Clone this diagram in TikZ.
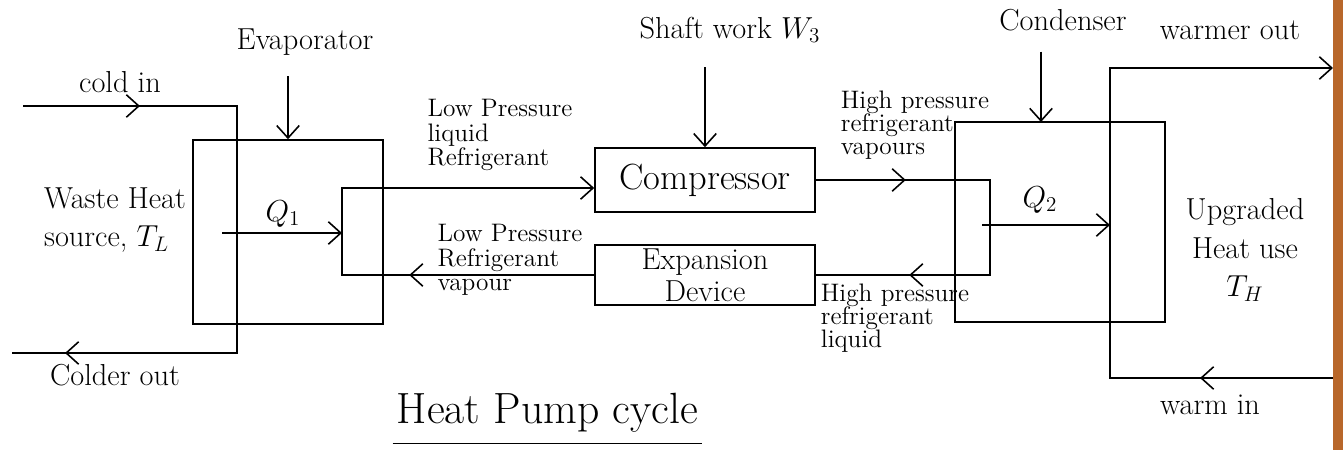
\documentclass[tikz,border=0pt]{standalone}
\usetikzlibrary{arrows.meta,decorations.markings}
\begin{document}
\begin{tikzpicture}[
    >={Straight Barb[length=2.5mm,width=4.5mm]},
    line width=0.9pt,
    unit/.style={draw, line width=0.9pt, inner sep=0pt},
    lbl/.style={font=\LARGE, align=center},
    small/.style={font=\Large, align=left, inner sep=1pt},
    marrow/.style={postaction={decorate,
        decoration={markings, mark=at position #1 with {\arrow{>}}}}}
]
    \definecolor{tableColour}{HTML}{B8672A}

    % Page size
    \useasboundingbox (0,0) rectangle (26.86,9);
    \fill[tableColour] (26.66,0) rectangle (26.86,9);

    % Units
    \node[unit, minimum width=3.8cm, minimum height=3.68cm] (evap) at (5.76,4.36) {};
    \node[unit, minimum width=4.4cm, minimum height=1.28cm, font=\huge] (comp) at (14.1,5.4) {Compressor};
    \node[unit, minimum width=4.4cm, minimum height=1.2cm, font=\LARGE, align=center] (expn) at (14.1,3.5) {Expansion\\[-4pt] Device};
    \node[unit, minimum width=4.2cm, minimum height=4.0cm] (cond) at (21.2,4.56) {};

    % Refrigerant loop
    \coordinate (eTop) at (6.84,5.24);
    \coordinate (eBot) at (6.84,3.5);
    \coordinate (cTop) at (19.8,5.4);
    \coordinate (cBot) at (19.8,3.5);
    \draw[->, marrow=3.7cm] (expn.west) -- (eBot) -- (eTop) -- (eTop -| comp.west);
    \draw[marrow=1.8cm, marrow=7.0cm] (comp.east) -- (cTop) -- (cBot) -- (expn.east);

    % Cold stream
    \coordinate (ci) at (0.46,6.88);
    \coordinate (c1) at (4.74,6.88);
    \coordinate (c2) at (4.74,1.94);
    \coordinate (co) at (0.24,1.94);
    \draw[marrow=2.34cm, marrow=12.66cm] (ci) -- (c1) -- (c2) -- (co);

    % Warm stream
    \coordinate (wi) at (26.66,1.44);
    \coordinate (w1) at (22.2,1.44);
    \coordinate (w2) at (22.2,7.64);
    \coordinate (wo) at (26.66,7.64);
    \draw[->, marrow=2.66cm] (wi) -- (w1) -- (w2) -- (wo);

    % Heat flows
    \coordinate (q1s) at (4.44,4.34);
    \coordinate (q2s) at (19.64,4.5);
    \draw[->] (q1s) -- (q1s -| eTop);
    \draw[->] (q2s) -- (q2s -| w1);
    \node[lbl] (qOne) at (5.66,4.72) {$Q_1$};
    \node[lbl] (qTwo) at (20.8,5.0) {$Q_2$};

    % Labels with pointers
    \node[lbl] (evLbl) at (6.1,8.16) {Evaporator};
    \node[lbl] (shaft) at (14.6,8.4) {Shaft work $W_3$};
    \node[lbl] (condLbl) at (21.26,8.6) {Condenser};
    \coordinate (condPt) at (20.82,6.56);
    \draw[->, shorten <=8pt] (evLbl.south -| evap.north) -- (evap.north);
    \draw[->, shorten <=10pt] (shaft.south -| comp.north) -- (comp.north);
    \draw[->, shorten <=8pt] (condLbl.south -| condPt) -- (condPt);

    % Stream and unit labels
    \node[lbl] (coldIn) at (2.4,7.36) {cold in};
    \node[lbl] (coldOut) at (2.3,1.5) {Colder out};
    \node[lbl, align=left] (source) at (2.3,4.6) {Waste Heat\\ source, $T_L$};
    \node[lbl] (warmOut) at (24.6,8.4) {warmer out};
    \node[lbl] (warmIn) at (24.2,0.9) {warm in};
    \node[lbl] (sink) at (24.9,4.0) {Upgraded\\ Heat use\\ $T_H$};

    % Refrigerant state labels
    \node[small] (lpLiq) at (10.0,6.3) {Low Pressure\\[-4pt] liquid\\[-4pt] Refrigerant};
    \node[small] (lpVap) at (10.2,3.8) {Low Pressure\\[-4pt] Refrigerant\\[-4pt] vapour};
    \node[small] (hpVap) at (18.3,6.5) {High pressure\\[-5pt] refrigerant\\[-5pt] vapours};
    \node[small] (hpLiq) at (17.9,2.64) {High pressure\\[-5pt] refrigerant\\[-5pt] liquid};

    % Title
    \node[lbl, font=\Huge, inner sep=2pt] (title) at (10.95,0.75) {Heat Pump cycle};
    \draw ([yshift=-4pt]title.south west) -- ([yshift=-4pt]title.south east);

\end{tikzpicture}
\end{document}
